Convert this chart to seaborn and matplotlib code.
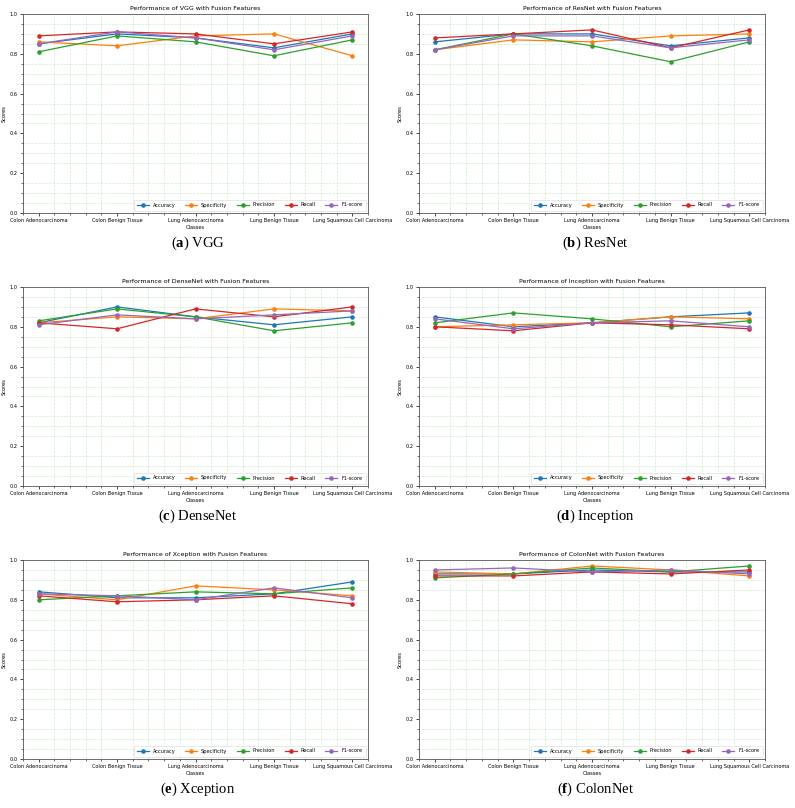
import seaborn as sns
import matplotlib.pyplot as plt
import pandas as pd
import numpy as np

classes = ['Colon Adenocarcinoma', 'Colon Benign Tissue', 'Lung Adenocarcinoma',
           'Lung Benign Tissue', 'Lung Squamous Cell Carcinoma']
metrics = ['Accuracy', 'Specificity', 'Precision', 'Recall', 'F1-score']

# rows follow the metrics order, columns follow the classes order
vgg = [[0.85, 0.90, 0.88, 0.83, 0.90],
       [0.86, 0.84, 0.89, 0.90, 0.79],
       [0.81, 0.89, 0.86, 0.79, 0.87],
       [0.89, 0.91, 0.90, 0.85, 0.91],
       [0.85, 0.91, 0.88, 0.82, 0.89]]
resnet = [[0.86, 0.90, 0.90, 0.84, 0.88],
          [0.82, 0.87, 0.86, 0.89, 0.90],
          [0.82, 0.90, 0.84, 0.76, 0.86],
          [0.88, 0.90, 0.92, 0.83, 0.92],
          [0.82, 0.89, 0.89, 0.83, 0.87]]
densenet = [[0.82, 0.90, 0.85, 0.81, 0.85],
            [0.82, 0.85, 0.84, 0.89, 0.88],
            [0.83, 0.89, 0.85, 0.78, 0.82],
            [0.82, 0.79, 0.89, 0.85, 0.90],
            [0.81, 0.86, 0.84, 0.86, 0.88]]
inception = [[0.85, 0.80, 0.82, 0.85, 0.87],
             [0.80, 0.81, 0.82, 0.85, 0.84],
             [0.82, 0.87, 0.84, 0.80, 0.83],
             [0.80, 0.78, 0.82, 0.81, 0.79],
             [0.84, 0.79, 0.82, 0.83, 0.80]]
xception = [[0.84, 0.81, 0.81, 0.83, 0.89],
            [0.83, 0.80, 0.87, 0.85, 0.82],
            [0.80, 0.82, 0.84, 0.83, 0.86],
            [0.82, 0.79, 0.80, 0.82, 0.78],
            [0.83, 0.82, 0.80, 0.86, 0.81]]
colonnet = [[0.93, 0.93, 0.95, 0.94, 0.94],
            [0.94, 0.93, 0.97, 0.95, 0.92],
            [0.91, 0.93, 0.96, 0.94, 0.97],
            [0.92, 0.92, 0.94, 0.93, 0.95],
            [0.95, 0.96, 0.94, 0.95, 0.93]]

models = ['VGG', 'ResNet', 'DenseNet', 'Inception', 'Xception', 'ColonNet']
letters = ['a', 'b', 'c', 'd', 'e', 'f']
scores = [vgg, resnet, densenet, inception, xception, colonnet]

plt.rcParams['mathtext.fontset'] = 'custom'
plt.rcParams['mathtext.rm'] = 'Liberation Serif'
plt.rcParams['mathtext.bf'] = 'Liberation Serif:bold'

W, H = 795, 808
fig = plt.figure(figsize=(W / 100, H / 100), dpi=100)

cols = [(23, 368), (419, 765)]
rows = [(14, 213), (287, 486), (560, 759)]
palette = sns.color_palette('tab10', 5)


def plot_panel(ax, name, vals):
    df = pd.DataFrame(vals, index=metrics, columns=classes)
    df = df.reset_index().melt(id_vars='index', var_name='Classes', value_name='Scores')
    df = df.rename(columns={'index': 'Metric'})
    sns.lineplot(data=df, x='Classes', y='Scores', hue='Metric', hue_order=metrics,
                 palette=palette, marker='o', markersize=3.3, markeredgewidth=0,
                 linewidth=0.9, ax=ax)
    ax.set_ylim(0, 1)
    ax.set_xlim(-0.2, 4.2)
    ax.set_yticks(np.arange(0, 1.01, 0.2))
    ax.minorticks_on()
    ax.grid(which='minor', linestyle='--', color='#9fd99f', alpha=0.5, linewidth=0.5)
    ax.tick_params(which='major', labelsize=3.6, length=2.5, width=0.5, pad=1.2)
    ax.tick_params(which='minor', length=1.3, width=0.4)
    for s in ax.spines.values():
        s.set_linewidth(0.6)
        s.set_color('#555555')
    ax.set_title(f'Performance of {name} with Fusion Features', fontsize=4.5, pad=3)
    ax.set_xlabel('Classes', fontsize=3.7, labelpad=1)
    ax.set_ylabel('Scores', fontsize=3.7, labelpad=2)
    sns.move_legend(ax, 'lower right', ncol=5, title=None, fontsize=3.6,
                    handlelength=2.4, columnspacing=1.9, frameon=True,
                    borderpad=0.6, borderaxespad=0.5)
    ax.get_legend().get_frame().set_linewidth(0.4)


for i, name in enumerate(models):
    r, c = divmod(i, 2)
    l, rt = cols[c]
    t, b = rows[r]
    ax = fig.add_axes([l / W, 1 - b / H, (rt - l) / W, (b - t) / H])
    plot_panel(ax, name, scores[i])
    cx = (198 if c == 0 else 595) / W
    cy = 1 - (b + 30) / H
    fig.text(cx, cy, rf'($\mathbf{{{letters[i]}}}$) {name}', ha='center', va='center',
             fontsize=10.5, family='Liberation Serif')

fig.savefig('out.png', dpi=100)
